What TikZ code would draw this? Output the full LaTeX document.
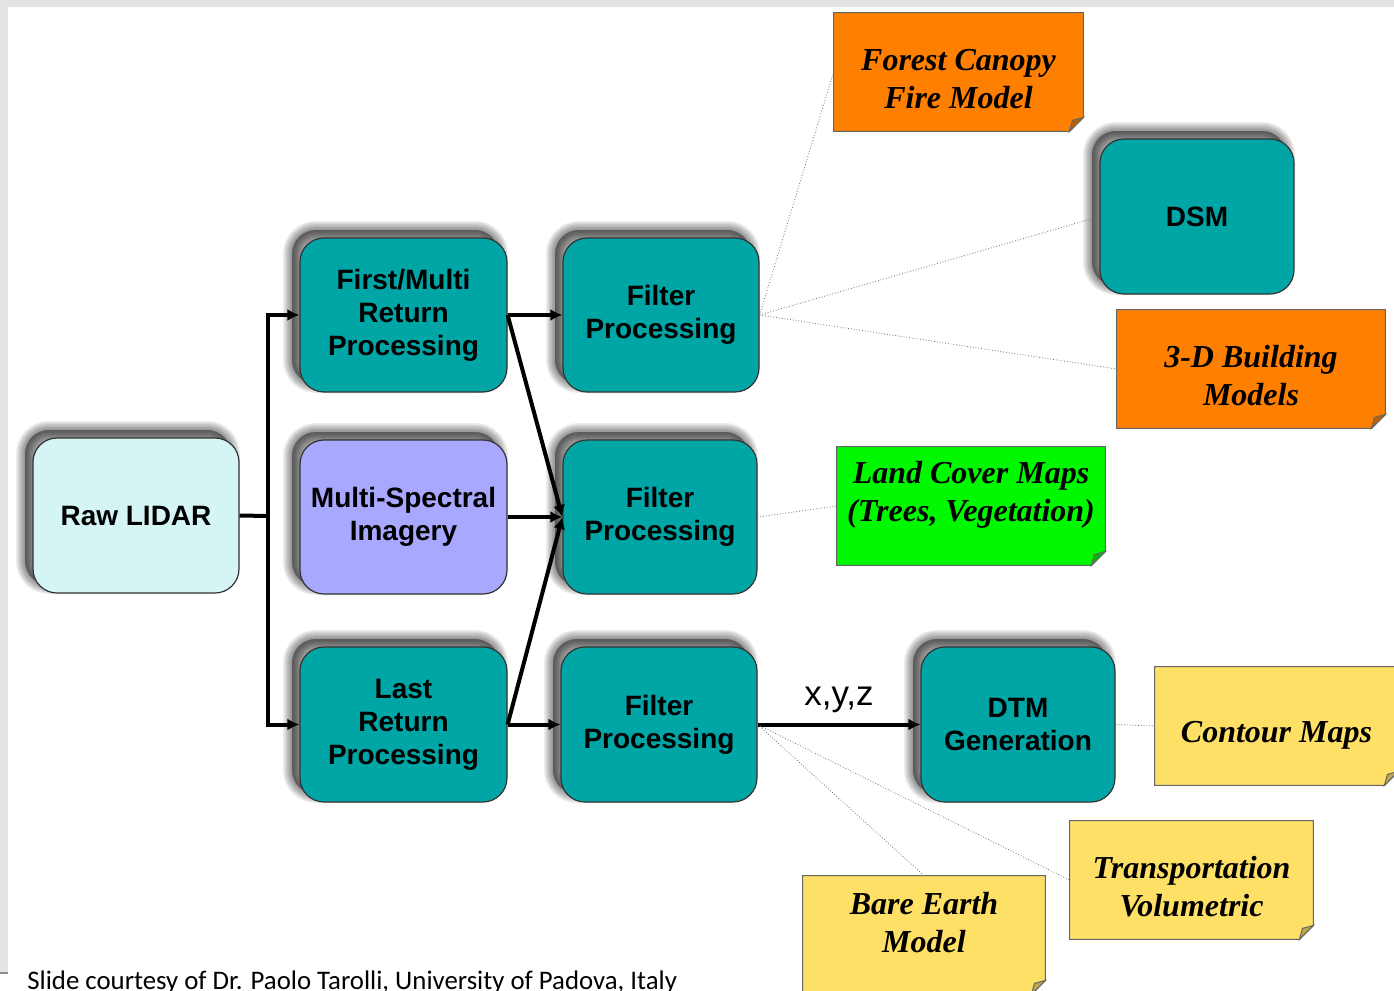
\documentclass[tikz,border=0pt]{standalone}
\usepackage{fontspec}
\setmainfont{Liberation Sans}
\newfontfamily\notefont{Liberation Serif}
\newfontfamily\footfont{Carlito}
\usetikzlibrary{arrows.meta,backgrounds}
\definecolor{tealbox}{HTML}{00A6A6}
\definecolor{rawfill}{HTML}{D5F5F5}
\definecolor{msfill}{HTML}{A8A8FF}
\definecolor{orangenote}{HTML}{FF7F00}
\definecolor{greennote}{HTML}{00F800}
\definecolor{yellownote}{HTML}{FFE066}
\definecolor{framegray}{HTML}{E3E3E3}
\tikzset{
  shlayer/.style={preaction={fill=black, draw=black, fill opacity=0.08, draw opacity=0.08,
      line width=#1, transform canvas={xshift=-4pt,yshift=4pt}}},
  box/.style={draw=black!80, line width=0.6pt, rounded corners=12pt, fill=tealbox,
    align=center, inner sep=0pt, font=\bfseries\fontsize{14}{16.5}\selectfont,
    shlayer=9pt, shlayer=7.5pt, shlayer=6pt, shlayer=4.5pt, shlayer=3pt, shlayer=1.5pt},
  notebox/.style={draw=none, inner sep=0pt, rectangle},
  notetext/.style={align=center, inner sep=0pt, font=\notefont\bfseries\itshape\fontsize{16}{19}\selectfont},
  notebord/.style={draw=black!60, line width=0.5pt},
  arr/.style={line width=2pt, -{Latex[length=6pt,width=6pt]}},
  plain/.style={line width=2pt},
  dotc/.style={densely dotted, draw=black!55, line width=0.4pt},
}
\newcommand\mynote[7]{%
  \node[notebox, minimum width=#3, minimum height=#4,
        label={[notetext,yshift=#6]center:{#7}}] (#1) at (#2) {};
  \begin{pgfonlayer}{background}
    \draw[notebord, fill=#5] (#1.north west) -- (#1.north east) -- ([yshift=7pt]#1.south east)
      -- ([xshift=-7pt]#1.south east) -- (#1.south west) -- cycle;
    \draw[notebord, fill=#5!75!black] ([yshift=7pt]#1.south east) -- ([xshift=-7pt]#1.south east)
      -- ([xshift=-5.5pt,yshift=5.5pt]#1.south east) -- cycle;
  \end{pgfonlayer}}
\begin{document}
\begin{tikzpicture}[x=0.5pt,y=-0.5pt]
\useasboundingbox (0,0) rectangle (1394,991);
\clip (0,0) rectangle (1394,991);
\begin{pgfonlayer}{background}
  \fill[white] (0,0) rectangle (1394,991);
\end{pgfonlayer}

% process boxes
\node[box, fill=rawfill, minimum width=103pt, minimum height=77.5pt] (raw) at (136,515.5) {Raw LIDAR};
\node[box, minimum width=103.5pt, minimum height=77pt] (fm) at (403.5,315) {First/Multi\\Return\\Processing};
\node[box, fill=msfill, minimum width=103.5pt, minimum height=77pt] (ms) at (403.5,517) {Multi-Spectral\\Imagery};
\node[box, minimum width=103.5pt, minimum height=77.5pt] (lr) at (403.5,724.5) {Last\\Return\\Processing};
\node[box, minimum width=98pt, minimum height=77pt] (f1) at (661,315) {Filter\\Processing};
\node[box, minimum width=97pt, minimum height=77pt] (f2) at (660,517) {Filter\\Processing};
\node[box, minimum width=98pt, minimum height=77.5pt] (f3) at (659,724.5) {Filter\\Processing};
\node[box, minimum width=97pt, minimum height=77.5pt] (dtm) at (1018,724.5) {DTM\\Generation};
\node[box, minimum width=97pt, minimum height=77.5pt] (dsm) at (1197,216.5) {DSM};

% notes
\mynote{fc}{958.5,72}{124.5pt}{59pt}{orangenote}{-3.5pt}{Forest Canopy\\Fire Model}
\mynote{bm}{1251,369}{134pt}{59pt}{orangenote}{-3.5pt}{3-D Building\\Models}
\mynote{lc}{971,506}{134pt}{59pt}{greennote}{5.75pt}{Land Cover Maps\\(Trees, Vegetation)}
\mynote{cm}{1276.5,726}{121.5pt}{59pt}{yellownote}{-4.5pt}{Contour Maps}
\mynote{tv}{1191.5,880}{121.5pt}{59pt}{yellownote}{-3.5pt}{Transportation\\Volumetric}
\mynote{be}{924,935}{121pt}{59pt}{yellownote}{6pt}{Bare Earth\\Model}

% solid connectors
\coordinate (jn) at (268,516);
\draw[plain] (raw.east) -- (jn);
\draw[arr] ([yshift=-1pt]jn) |- (fm.west);
\draw[arr] ([yshift=1pt]jn) |- (lr.west);
\draw[arr] (fm.east) -- (f1.west);
\draw[arr] (fm.east) -- (f2.west);
\draw[arr] (ms.east) -- (f2.west);
\draw[arr] (lr.east) -- (f2.west);
\draw[arr] (lr.east) -- (f3.west);
\draw[arr] (f3.east) -- node[above=5pt, font=\fontsize{17.5}{20}\selectfont, inner sep=0pt] (xyz) {x,y,z} (dtm.west);

% dotted connectors
\draw[dotc] (f1.east) -- (fc.west);
\draw[dotc] (f1.east) -- (dsm.west);
\draw[dotc] (f1.east) -- (bm.west);
\draw[dotc] (f2.east) -- (lc.west);
\draw[dotc] (dtm.east) -- (cm.west);
\draw[dotc] (f3.east) -- (be.north);
\draw[dotc] (f3.east) -- (tv.west);

% slide frame
\fill[framegray] (0,0) rectangle (1394,7);
\fill[framegray] (0,0) rectangle (8,973);
\draw[black!45, line width=0.6pt] (0,973) -- (8,973);

% footer
\node[anchor=base west, inner sep=0pt, font=\footfont\fontsize{13.4}{16}\selectfont] (foot) at (27,989)
  {Slide courtesy of Dr. Paolo Tarolli, University of Padova, Italy};
\end{tikzpicture}
\end{document}
